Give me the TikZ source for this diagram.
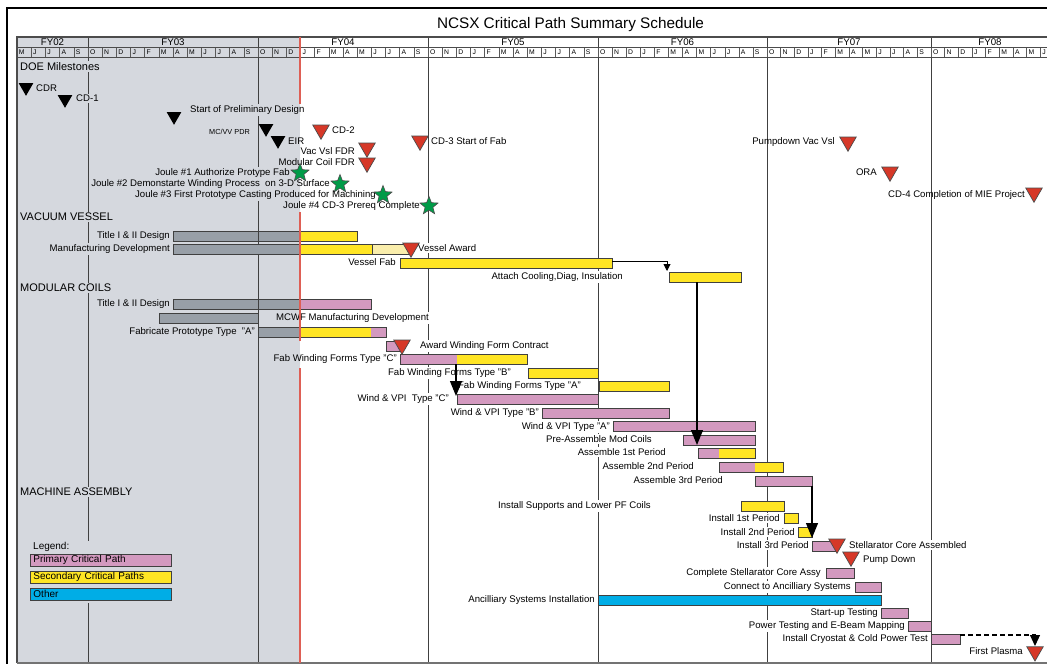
\documentclass[tikz,border=0pt]{standalone}
\usepackage{fontspec}
\setmainfont{Liberation Sans}
\usetikzlibrary{shapes.geometric,arrows.meta}

\definecolor{bgshade}{RGB}{213,216,222}
\definecolor{critpink}{RGB}{211,153,191}
\definecolor{crityel}{RGB}{255,229,36}
\definecolor{paleyel}{RGB}{250,238,172}
\definecolor{donegrey}{RGB}{152,159,167}
\definecolor{otherblue}{RGB}{0,173,230}
\definecolor{msred}{RGB}{214,56,40}
\definecolor{jgreen}{RGB}{0,155,72}
\definecolor{nowred}{RGB}{222,95,85}

\pgfdeclarelayer{shade}
\pgfdeclarelayer{grid}
\pgfdeclarelayer{knock}
\pgfsetlayers{shade,grid,knock,main}

\tikzset{
  lab/.style={font=\fontsize{9.6}{10}\selectfont, inner sep=1pt},
  head/.style={font=\fontsize{11}{12}\selectfont, inner sep=1pt, anchor=mid west},
  mon/.style={font=\fontsize{6.8}{7}\selectfont, inner sep=0pt, anchor=mid west},
  fy/.style={font=\fontsize{9.7}{10}\selectfont, inner sep=0pt, anchor=mid},
  bx/.style={draw=black!75, line width=0.9pt},
  fyline/.style={black!75, line width=1pt},
  mtick/.style={black!65, line width=0.5pt},
  msk/.style={regular polygon, regular polygon sides=3, shape border rotate=180,
    fill=black, inner sep=0pt, minimum size=17pt},
  msr/.style={msk, fill=msred, draw=black!70, line width=0.7pt, minimum size=19pt},
  joule/.style={star, star points=5, star point ratio=2.3, fill=jgreen,
    draw=black!70, line width=0.6pt, inner sep=0pt, minimum size=19pt},
  leg/.style={draw=black!75, line width=0.9pt, anchor=west, minimum height=12pt,
    text width=135pt, inner xsep=3pt, inner ysep=0pt, align=left,
    font=\fontsize{10}{11}\selectfont},
  bighead/.style={-{Triangle[width=12pt,length=15pt]}, line width=1.2pt},
}

% bar pieces: colour, top, from, to
\newcommand\seg[4]{\fill[#1] (#3,#2) rectangle (#4,#2+10);}
\newcommand\frm[3]{\draw[bx] (#2,#1) rectangle (#3,#1+10);}
% blank out grid lines behind a label
\newcommand\knock[1]{%
  \begin{pgfonlayer}{knock}
    \begin{scope}
      \clip (300,0) rectangle (1100,700);
      \fill[white] (#1.south west) rectangle (#1.north east);
    \end{scope}
    \begin{scope}
      \clip (17,0) rectangle (300,700);
      \fill[bgshade] (#1.south west) rectangle (#1.north east);
    \end{scope}
  \end{pgfonlayer}}

\begin{document}
\begin{tikzpicture}[x=1pt,y=-1pt]
\useasboundingbox (0,0) rectangle (1047,664);

\begin{pgfonlayer}{shade}
  \fill[white] (0,0) rectangle (1047,664);
  \fill[bgshade] (17,37) rectangle (300,663);
\end{pgfonlayer}

% frame and header
\draw[line width=1.4pt] (7,690) -- (7,8) -- (1060,8);
\draw[black!70, line width=1.2pt] (17,663) -- (17,37) -- (1060,37);
\draw[black!70, line width=0.8pt] (17,47) -- (1060,47) (17,57) -- (1060,57);
\draw[black!55, line width=2pt] (17,663) -- (1060,663);

\node[font=\fontsize{15.3}{17}\selectfont, inner sep=0pt, anchor=base] (title) at (570.5,28.3)
  {NCSX Critical Path Summary Schedule};

\begin{pgfonlayer}{grid}
  \foreach \fx in {88,258,428,598,767,931}
    \draw[fyline] (\fx,37) -- (\fx,663);
  \foreach \fs/\fw/\ml in {17/14.2/{M,J,J,A,S},
      88/14.167/{O,N,D,J,F,M,A,M,J,J,A,S}, 258/14.167/{O,N,D,J,F,M,A,M,J,J,A,S},
      428/14.167/{O,N,D,J,F,M,A,M,J,J,A,S}, 598/14.083/{O,N,D,J,F,M,A,M,J,J,A,S},
      767/13.667/{O,N,D,J,F,M,A,M,J,J,A,S}, 931/13.667/{O,N,D,J,F,M,A,M,J}}
    \foreach \m [count=\i from 0] in \ml {
      \draw[mtick] (\fs+\i*\fw,47) -- (\fs+\i*\fw,57);
      \node[mon] (m\fs-\i) at (\fs+\i*\fw+1.8,52.3) {\m};
    }
\end{pgfonlayer}
\foreach \fx/\fl in {52.5/FY02,173/FY03,343/FY04,513/FY05,682.5/FY06,849/FY07,990/FY08}
  \node[fy] (\fl) at (\fx,42.7) {\fl};

% DOE milestones
\node[head] (doe) at (19,68) {DOE Milestones};
\node[msk] (cdr) at (26,87.3) {};
\node[lab, anchor=mid west] (cdrL) at (35,89) {CDR};
\node[msk] (cd1) at (65,99.3) {};
\node[lab, anchor=mid west] (cd1L) at (75,99) {CD-1};
\node[msk] (spd) at (174,116.3) {};
\node[lab, anchor=mid west] (spdL) at (189,110) {Start of Preliminary Design};
\node[msk] (pdr) at (266,128.3) {};
\node[lab, anchor=mid east, font=\fontsize{7.3}{8}\selectfont] (pdrL) at (251,132) {MC/VV PDR};
\node[msk] (eir) at (278,140.3) {};
\node[lab, anchor=mid west] (eirL) at (287,142) {EIR};
\node[msr] (cd2) at (321,129.8) {};
\node[lab, anchor=mid west] (cd2L) at (331,131) {CD-2};
\node[msr] (cd3) at (420,140.8) {};
\node[lab, anchor=mid west] (cd3L) at (430,142) {CD-3 Start of Fab};
\node[msr] (vvfdr) at (367,147.8) {};
\node[lab, anchor=mid east] (vvfdrL) at (356,152) {Vac Vsl FDR};
\node[msr] (mcfdr) at (367,162.8) {};
\node[lab, anchor=mid east] (mcfdrL) at (356,163) {Modular Coil FDR};
\node[lab, anchor=mid east] (j1L) at (291,173) {Joule \#1 Authorize Protype Fab};
\node[joule] (j1) at (300,173) {};
\node[lab, anchor=mid east] (j2L) at (331,184) {Joule \#2 Demonstarte Winding Process\ \ on 3-D Surface};
\node[joule] (j2) at (340,184) {};
\node[lab, anchor=mid east] (j3L) at (377,195) {Joule \#3 First Prototype Casting Produced for Machining};
\node[joule] (j3) at (383,195) {};
\node[lab, anchor=mid east] (j4L) at (421,206) {Joule \#4 CD-3 Prereq Complete};
\node[joule] (j4) at (429,206) {};
\node[msr] (pvv) at (848,141.8) {};
\node[lab, anchor=mid east] (pvvL) at (836,142) {Pumpdown Vac Vsl};
\node[msr] (ora) at (890,171.8) {};
\node[lab, anchor=mid east] (oraL) at (878,173) {ORA};
\node[msr] (cd4) at (1034,192.8) {};
\node[lab, anchor=mid east] (cd4L) at (1026,195) {CD-4 Completion of MIE Project};

% vacuum vessel
\node[head] (vvH) at (19,218) {VACUUM VESSEL};
\seg{donegrey}{231}{173}{300}\seg{crityel}{231}{300}{357}
\draw[bx] (258,231) -- (258,241);
\frm{231}{173}{357}
\node[lab, anchor=mid east] (vvT) at (171,236) {Title I \& II Design};
\seg{donegrey}{244}{173}{300}\seg{crityel}{244}{300}{372}\seg{paleyel}{244}{372}{410}
\draw[bx] (372,244) -- (372,254);
\frm{244}{173}{410}
\node[lab, anchor=mid east] (vvMD) at (171,249) {Manufacturing Development};
\node[msr] (vaward) at (411,247.8) {};
\node[lab, anchor=mid west] (vawardL) at (417,249) {Vessel Award};
\seg{crityel}{258}{400}{612}\frm{258}{400}{612}
\node[lab, anchor=mid east] (vfab) at (397,263) {Vessel Fab};
\coordinate (vfabEnd) at (612,261);
\coordinate (attachIn) at (667,271);
\draw[line width=0.9pt, -{Triangle[width=7pt,length=7pt]}] (vfabEnd) -| (attachIn);
\seg{crityel}{272}{669}{741}\frm{272}{669}{741}
\node[lab, anchor=mid east] (attach) at (624,277) {Attach Cooling,Diag, Insulation};

% modular coils
\node[head] (mcH) at (19,289) {MODULAR COILS};
\seg{donegrey}{299}{173}{300}\seg{critpink}{299}{300}{371}
\draw[bx] (258,299) -- (258,309);
\frm{299}{173}{371}
\node[lab, anchor=mid east] (mcT) at (171,304) {Title I \& II Design};
\seg{donegrey}{313}{159}{258}\frm{313}{159}{258}
\node[lab, anchor=mid west] (mcwf) at (275,318) {MCWF Manufacturing Development};
\seg{donegrey}{327}{258}{300}\seg{crityel}{327}{300}{371}\seg{critpink}{327}{371}{386}
\frm{327}{258}{386}
\node[lab, anchor=mid east] (proto) at (256,332) {Fabricate Prototype Type\ \ "A"};
\seg{critpink}{341}{386}{401}\frm{341}{386}{401}
\node[lab, anchor=mid west] (awfcL) at (419,346) {Award Winding Form Contract};
\seg{critpink}{354}{400}{457}\seg{crityel}{354}{457}{527}\frm{354}{400}{527}
\node[msr] (awfc) at (402,344.8) {};
\node[lab, anchor=mid east] (fwfC) at (398,359) {Fab Winding Forms Type "C"};
\seg{crityel}{368}{528}{598}\frm{368}{528}{598}
\node[lab, anchor=mid east] (fwfB) at (512,373) {Fab Winding Forms Type "B"};
\seg{crityel}{381}{599}{669}\frm{381}{599}{669}
\node[lab, anchor=mid east] (fwfA) at (582,386) {Fab Winding Forms Type "A"};
\seg{critpink}{394}{457}{598}\frm{394}{457}{598}
\node[lab, anchor=mid east] (wvC) at (450,399) {Wind \& VPI\ \ Type "C"};
\coordinate (fwfCout) at (456,364);
\coordinate (wvCin) at (456,396);
\draw[bighead] (fwfCout) -- (wvCin);
\seg{critpink}{408}{542}{669}\frm{408}{542}{669}
\node[lab, anchor=mid east] (wvB) at (540,413) {Wind \& VPI Type "B"};
\seg{critpink}{421}{613}{755}\frm{421}{613}{755}
\node[lab, anchor=mid east] (wvA) at (611,427) {Wind \& VPI Type "A"};
\seg{critpink}{435}{683}{755}\frm{435}{683}{755}
\node[lab, anchor=mid east] (pre) at (653,440) {Pre-Assemble Mod Coils};
\coordinate (attachOut) at (697,282);
\coordinate (preIn) at (697,445);
\draw[bighead] (attachOut) -- (preIn);
\seg{critpink}{448}{698}{719}\seg{crityel}{448}{719}{755}\frm{448}{698}{755}
\node[lab, anchor=mid east] (as1) at (667,453) {Assemble 1st Period};
\seg{critpink}{462}{719}{755}\seg{crityel}{462}{755}{783}\frm{462}{719}{783}
\node[lab, anchor=mid east] (as2) at (695,467) {Assemble 2nd Period};
\seg{critpink}{476}{755}{812}\frm{476}{755}{812}
\node[lab, anchor=mid east] (as3) at (724,481) {Assemble 3rd Period};

% machine assembly
\node[head] (maH) at (19,493) {MACHINE ASSEMBLY};
\seg{crityel}{501}{741}{784}\frm{501}{741}{784}
\node[lab, anchor=mid east] (isup) at (652,506) {Install Supports and Lower PF Coils};
\seg{crityel}{513}{784}{798}\frm{513}{784}{798}
\node[lab, anchor=mid east] (in1) at (781,519) {Install 1st Period};
\seg{crityel}{527}{798}{812}\frm{527}{798}{812}
\node[lab, anchor=mid east] (in2) at (796,533) {Install 2nd Period};
\coordinate (as3out) at (812,486);
\coordinate (in2in) at (812,538);
\draw[bighead] (as3out) -- (in2in);
\seg{critpink}{541}{812}{837}\frm{541}{812}{837}
\node[lab, anchor=mid east] (in3) at (810,546) {Install 3rd Period};
\node[msr] (sca) at (837,543.8) {};
\node[lab, anchor=mid west] (scaL) at (848,546) {Stellarator Core Assembled};
\node[msr] (pd) at (851,556.8) {};
\node[lab, anchor=mid west] (pdL) at (862,560) {Pump Down};
\seg{critpink}{568}{826}{854}\frm{568}{826}{854}
\node[lab, anchor=mid east] (csc) at (822,573) {Complete Stellarator Core Assy};
\seg{critpink}{582}{855}{881}\frm{582}{855}{881}
\node[lab, anchor=mid east] (conn) at (852,587) {Connect to Ancilliary Systems};
\seg{otherblue}{595}{598}{881}\frm{595}{598}{881}
\node[lab, anchor=mid east] (anc) at (596,600) {Ancilliary Systems Installation};
\seg{critpink}{608}{881}{908}\frm{608}{881}{908}
\node[lab, anchor=mid east] (stup) at (879,613) {Start-up Testing};
\seg{critpink}{621}{908}{931}\frm{621}{908}{931}
\node[lab, anchor=mid east] (pwr) at (906,626) {Power Testing and E-Beam Mapping};
\seg{critpink}{634}{931}{960}\frm{634}{931}{960}
\node[lab, anchor=mid east] (cryo) at (929,639) {Install Cryostat \& Cold Power Test};
\coordinate (cryoOut) at (960,635);
\coordinate (fpIn) at (1035,646);
\draw[dash pattern=on 5pt off 3pt, line width=1.1pt, -{Triangle[width=10pt,length=11pt]}]
  (cryoOut) -| (fpIn);
\node[msr] (fp) at (1035,651.5) {};
\node[lab, anchor=mid east] (fpL) at (1024,652) {First Plasma};

% legend
\begin{pgfonlayer}{knock}
  \fill[bgshade] (28,541) rectangle (174,603);
\end{pgfonlayer}
\node[lab, anchor=mid west, font=\fontsize{10}{11}\selectfont] (legT) at (32,547) {Legend:};
\node[leg, fill=critpink] (leg1) at (30,560) {Primary Critical Path};
\node[leg, fill=crityel] (leg2) at (30,577) {Secondary Critical Paths};
\node[leg, fill=otherblue] (leg3) at (30,594) {Other};

\foreach \n in {doe,cdrL,cd1L,spdL,pdrL,eirL,cd2L,cd3L,vvfdrL,mcfdrL,j1L,j2L,j3L,j4L,
    vvH,vvT,vvMD,vawardL,vfab,attach,mcH,mcT,mcwf,proto,awfcL,fwfC,fwfB,fwfA,
    wvC,wvB,wvA,pre,as1,as2,as3,maH,isup,in1,in2,in3,scaL,pdL,csc,conn,anc,
    stup,pwr,cryo,fpL}
  {\knock{\n}}

% status line
\draw[nowred, line width=1.3pt] (300,37) -- (300,104) (300,212) -- (300,341)
  (300,368) -- (300,663);
\end{tikzpicture}
\end{document}
